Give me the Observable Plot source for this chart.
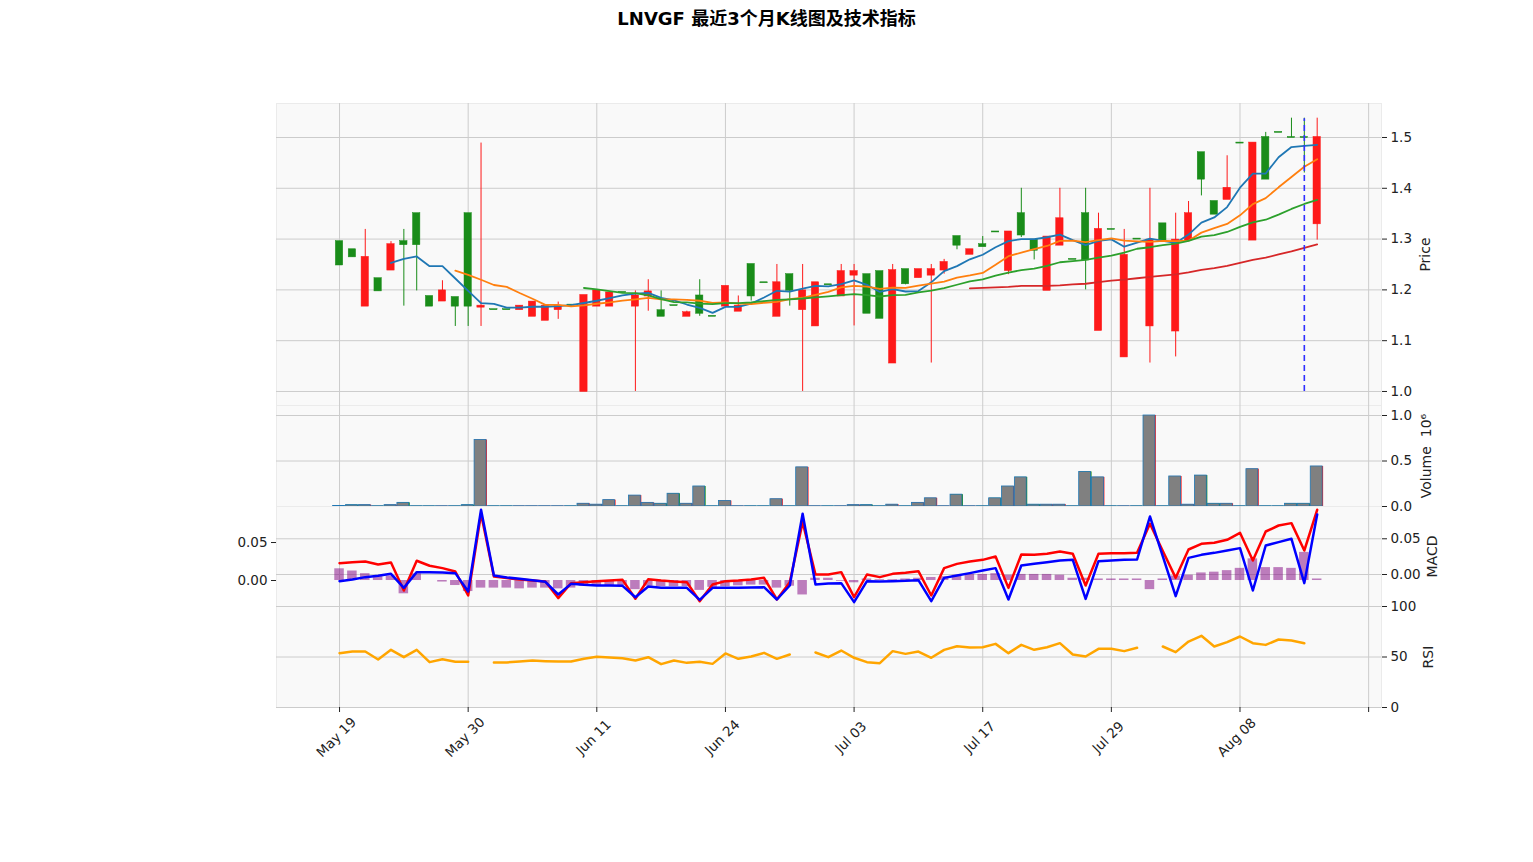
<!DOCTYPE html>
<html><head><meta charset="utf-8">
<script src="https://cdn.jsdelivr.net/npm/d3@7"></script>
<script src="https://cdn.jsdelivr.net/npm/@observablehq/plot@0.6"></script>
<style>
body{margin:0;background:#fff;}
#wrap{position:relative;width:1533px;height:862px;overflow:hidden;}
#title{position:absolute;top:4px;left:0;width:1533px;text-align:center;font-weight:bold;font-size:18px;font-family:"DejaVu Sans","Noto Sans CJK SC",sans-serif;color:#000;}
</style></head><body>
<div id="wrap"><div id="title">LNVGF 最近3个月K线图及技术指标</div></div>
<script>
// ---- data (index = trading day) ----
const tickIdx = [0, 10, 20, 30, 40, 50, 60, 70, 80];
const tickLabels = ["May 19", "May 30", "Jun 11", "Jun 24", "Jul 03", "Jul 17", "Jul 29", "Aug 08", ""];

const open = [1.295,1.279,1.168,1.222,1.239,1.295,1.350,1.187,1.178,1.185,
1.350,1.166,1.161,1.161,1.161,1.148,1.140,1.161,1.170,1.000,
1.168,1.168,1.195,1.168,1.188,1.159,1.169,1.148,1.188,1.148,
1.168,1.158,1.250,1.214,1.148,1.230,1.161,1.129,1.210,1.188,
1.229,1.230,1.236,1.056,1.240,1.224,1.229,1.239,1.305,1.270,
1.289,1.314,1.238,1.350,1.298,1.199,1.288,1.260,1.350,1.120,
1.319,1.068,1.300,1.129,1.330,1.119,1.298,1.470,1.374,1.378,
1.489,1.298,1.500,1.510,1.500,1.500,1.330];
const high = [1.295,1.279,1.319,1.222,1.295,1.319,1.350,1.187,1.218,1.185,
1.350,1.489,1.161,1.161,1.168,1.176,1.168,1.176,1.170,1.189,
1.198,1.194,1.195,1.198,1.220,1.198,1.169,1.158,1.220,1.148,
1.207,1.188,1.250,1.214,1.250,1.230,1.250,1.214,1.210,1.250,
1.250,1.230,1.236,1.250,1.240,1.240,1.250,1.260,1.305,1.279,
1.305,1.314,1.314,1.400,1.298,1.304,1.400,1.260,1.400,1.351,
1.319,1.319,1.300,1.400,1.330,1.351,1.374,1.470,1.374,1.464,
1.489,1.489,1.510,1.510,1.538,1.538,1.538];
const low = [1.249,1.265,1.168,1.198,1.239,1.168,1.198,1.168,1.178,1.128,
1.128,1.128,1.161,1.161,1.161,1.148,1.140,1.142,1.170,1.000,
1.168,1.168,1.195,1.000,1.158,1.148,1.169,1.148,1.148,1.148,
1.168,1.158,1.178,1.214,1.148,1.168,1.000,1.129,1.210,1.188,
1.129,1.154,1.144,1.056,1.210,1.224,1.056,1.231,1.279,1.270,
1.285,1.314,1.230,1.303,1.259,1.199,1.288,1.260,1.200,1.120,
1.319,1.068,1.300,1.056,1.298,1.068,1.298,1.385,1.349,1.378,
1.489,1.298,1.418,1.510,1.500,1.430,1.298];
const close = [1.249,1.265,1.264,1.198,1.289,1.289,1.289,1.168,1.198,1.168,
1.168,1.168,1.161,1.161,1.168,1.176,1.168,1.168,1.170,1.189,
1.198,1.194,1.195,1.188,1.196,1.148,1.169,1.155,1.154,1.148,
1.207,1.168,1.188,1.214,1.214,1.199,1.198,1.214,1.210,1.236,
1.236,1.154,1.144,1.238,1.212,1.240,1.240,1.254,1.288,1.279,
1.285,1.314,1.314,1.308,1.278,1.304,1.340,1.260,1.259,1.319,
1.319,1.268,1.300,1.298,1.298,1.298,1.350,1.418,1.349,1.400,
1.489,1.489,1.418,1.510,1.500,1.500,1.500];
// volume in millions
const volume = [0.005,0.015,0.015,0.003,0.015,0.04,0.003,0.003,0.003,0.003,
0.015,0.73,0.003,0.003,0.003,0.003,0.003,0.003,0.003,0.03,
0.02,0.07,0.003,0.12,0.04,0.03,0.14,0.03,0.22,0.003,
0.06,0.003,0.003,0.003,0.08,0.003,0.43,0.003,0.003,0.003,
0.015,0.015,0.003,0.02,0.003,0.04,0.09,0.003,0.13,0.003,
0.003,0.09,0.22,0.32,0.02,0.02,0.02,0.003,0.38,0.32,
0.003,0.003,0.003,1.0,0.003,0.33,0.02,0.34,0.03,0.03,
0.003,0.41,0.003,0.003,0.03,0.03,0.44];
const macdLine = [0.0159,0.0173,0.0182,0.014,0.0168,-0.0224,0.0192,0.0122,0.0089,0.0042,
-0.0294,0.085,-0.0028,-0.005,-0.007,-0.0084,-0.0098,-0.033,-0.0121,-0.0107,
-0.0093,-0.0084,-0.0075,-0.034,-0.0065,-0.0084,-0.0098,-0.0107,-0.0374,-0.014,
-0.0093,-0.0084,-0.007,-0.0047,-0.035,-0.0107,0.0733,0.0,0.0,0.0033,
-0.0317,0.0,-0.0037,0.0009,0.0023,0.0047,-0.0294,0.0089,0.0149,0.0182,
0.0205,0.0252,-0.0187,0.028,0.0275,0.029,0.0322,0.029,-0.0154,0.029,
0.0299,0.0299,0.0303,0.071,0.033,-0.0047,0.035,0.043,0.0444,0.0486,
0.0584,0.0196,0.0602,0.0686,0.0719,0.0336,0.0906];
const signalLine = [-0.0093,-0.007,-0.0037,-0.0019,0.001,-0.0187,0.0033,0.0033,0.0028,0.0019,
-0.0238,0.0906,-0.0014,-0.0042,-0.0061,-0.0079,-0.0103,-0.028,-0.0131,-0.0145,
-0.0154,-0.0154,-0.0159,-0.0318,-0.0168,-0.0187,-0.0187,-0.0187,-0.0355,-0.0187,
-0.0187,-0.0187,-0.0182,-0.0177,-0.035,-0.0154,0.085,-0.014,-0.0125,-0.0121,
-0.0387,-0.0093,-0.0098,-0.0093,-0.0089,-0.0079,-0.0374,-0.0047,-0.0014,0.0019,
0.0056,0.0089,-0.035,0.0126,0.0149,0.0173,0.0196,0.0205,-0.0341,0.0187,
0.0196,0.0205,0.021,0.0812,0.0255,-0.0303,0.0233,0.0275,0.0303,0.0336,
0.0369,-0.0224,0.0406,0.0453,0.05,-0.0121,0.084];
// histogram on the left-hand (secondary) MACD axis
const macdHist = [0.0154,0.0125,0.009,0.0066,0.006,-0.0175,0.0088,0.000,-0.002,-0.0066,
-0.0145,-0.010,-0.010,-0.010,-0.011,-0.010,-0.010,-0.011,-0.010,-0.0075,
-0.0075,-0.0066,-0.0066,-0.012,-0.0075,-0.008,-0.008,-0.008,-0.013,-0.009,
-0.008,-0.007,-0.006,-0.006,-0.010,-0.0075,-0.019,0.003,0.003,-0.001,
-0.003,0.002,0.001,0.001,0.002,0.003,0.004,0.005,0.007,0.008,
0.008,0.009,0.007,0.008,0.008,0.008,0.007,0.003,0.003,0.002,
0.002,0.002,0.002,-0.012,0.002,0.006,0.007,0.010,0.011,0.013,
0.016,0.0285,0.017,0.017,0.016,0.037,0.002];
const rsi = [53.8,55.4,55.4,47.5,57.1,49.8,57.1,44.9,47.8,45.2,
45.2,null,44.6,44.6,45.5,46.5,45.9,45.5,45.5,48.2,
50.2,49.5,48.8,46.5,49.8,42.9,46.5,44.2,45.2,43.2,
53.5,48.2,50.5,54.1,48.2,52.5,null,54.5,49.8,56.4,
49.2,44.9,43.9,55.8,53.1,55.4,49.2,57.1,60.7,59.4,
59.7,63.0,53.8,62.0,57.1,59.7,63.7,52.5,50.5,58.1,
58.1,55.8,59.1,null,60.4,54.8,65.3,71.0,60.4,64.7,
70.3,63.7,62.0,67.3,66.3,63.7,null];
const maWindows = [5, 10, 20, 50];
const maColors = ["#1f77b4", "#ff7f0e", "#2ca02c", "#d62728"];
const markerDay = {i: 75, y1: 1.0, y2: 1.537};

// ---- layout ----
const W = 1533, ML = 276, MR = 1533 - 1381;
const xDomain = [-4.9, 81];
const upColor = "#fe1919", downColor = "#198c19";
const rows = open.map((o, i) => ({i, open: o, high: high[i], low: low[i], close: close[i],
  volume: volume[i], macd: macdLine[i], signal: signalLine[i], hist: macdHist[i], rsi: rsi[i]}));
const col = d => d.close > d.open ? upColor : downColor;
const xTicks = tickIdx.map((i, k) => ({i, label: tickLabels[k]}));
const gridColor = "#cccccc";
const wrap = document.getElementById("wrap");

function addPanel(top, h, mt, mb, yDomain, marks) {
  const svg = Plot.plot({
    width: W, height: h + mt + mb,
    marginLeft: ML, marginRight: MR, marginTop: mt, marginBottom: mb,
    x: {domain: xDomain, axis: null},
    y: {domain: yDomain, axis: null},
    style: {fontFamily: "'DejaVu Sans', sans-serif", fontSize: "13.5px", color: "#222", background: "none", overflow: "visible"},
    marks: [
      Plot.frame({fill: "#f9f9f9", stroke: "#ebebeb"}),
      Plot.gridX(tickIdx, {stroke: gridColor, strokeOpacity: 1}),
      ...marks
    ]
  });
  svg.style.position = "absolute";
  svg.style.left = "0px";
  svg.style.top = (top - mt) + "px";
  wrap.appendChild(svg);
}
const yLabel = (t, dx, dy = 0) => Plot.text([t], {text: d => d, frameAnchor: "right", textAnchor: "middle", dx, dy, rotate: -90, fontSize: 14, fill: "#222"});

// Price panel
const priceTicks = [1.0, 1.1, 1.2, 1.3, 1.4, 1.5];
addPanel(103, 302, 10, 10, [0.9724, 1.5669], [
  Plot.gridY(priceTicks, {stroke: gridColor, strokeOpacity: 1}),
  Plot.axisY(priceTicks, {anchor: "right", tickSize: 5, tickPadding: 4, tickFormat: d3.format(".1f"), label: null}),
  Plot.ruleX(rows, {x: "i", y1: "low", y2: "high", stroke: col, strokeWidth: 1}),
  Plot.rect(rows, {x1: d => d.i - 0.285, x2: d => d.i + 0.285, y1: "open", y2: "close", fill: col, stroke: col, strokeWidth: 0.5, insetTop: -0.5, insetBottom: -0.5}),
  ...maWindows.map((k, j) => Plot.lineY(rows, Plot.windowY({k, anchor: "end", strict: true}, {x: "i", y: "close", stroke: maColors[j], strokeWidth: 1.8}))),
  Plot.ruleX([markerDay], {x: "i", y1: "y1", y2: "y2", stroke: "#3030ff", strokeWidth: 1.6, strokeDasharray: "6,4"}),
  yLabel("Price", 44)
]);

// Volume panel
const volTicks = [0, 0.5, 1.0];
addPanel(405, 101, 0, 0, [0, 1.11], [
  Plot.gridY(volTicks, {stroke: gridColor, strokeOpacity: 1}),
  Plot.axisY(volTicks, {anchor: "right", tickSize: 5, tickPadding: 4, tickFormat: d3.format(".1f"), label: null}),
  Plot.rectY(rows, {x1: d => d.i - 0.45, x2: d => d.i + 0.5, y: "volume", fill: col}),
  Plot.rectY(rows, {x1: d => d.i - 0.5, x2: d => d.i + 0.42, y: "volume", fill: "#808080", stroke: "#1f77b4", strokeWidth: 0.8}),
  yLabel("Volume  10\u2076", 45)
]);

// MACD panel (right axis primary, left axis secondary for histogram)
const macdRight = [-0.0448, 0.0952];
const macdLeft = [-0.0342, 0.0974];
const leftToRight = d3.scaleLinear(macdLeft, macdRight);
const macdTicks = [0, 0.05];
addPanel(506, 100, 0, 0, macdRight, [
  Plot.gridY(macdTicks, {stroke: gridColor, strokeOpacity: 1}),
  Plot.axisY(macdTicks, {anchor: "right", tickSize: 5, tickPadding: 4, tickFormat: d3.format(".2f"), label: null}),
  Plot.axisY(macdTicks.map(leftToRight), {anchor: "left", tickSize: 5, tickPadding: 4, tickFormat: d => d3.format(".2f")(leftToRight.invert(d)), label: null}),
  Plot.rect(rows, {x1: d => d.i - 0.37, x2: d => d.i + 0.37, y1: () => leftToRight(0), y2: d => leftToRight(d.hist), fill: "#800080", fillOpacity: 0.5}),
  Plot.lineY(rows, {x: "i", y: "macd", stroke: "#ff0000", strokeWidth: 2.5}),
  Plot.lineY(rows, {x: "i", y: "signal", stroke: "#0000ff", strokeWidth: 2.5}),
  yLabel("MACD", 51)
]);

// RSI panel
const rsiTicks = [0, 50, 100];
addPanel(606, 101, 0, 80, [0, 100], [
  Plot.gridY(rsiTicks, {stroke: gridColor, strokeOpacity: 1}),
  Plot.axisY(rsiTicks, {anchor: "right", tickSize: 5, tickPadding: 4, tickFormat: d3.format("d"), label: null}),
  Plot.axisX(tickIdx, {anchor: "bottom", tickSize: 5, tickFormat: () => "", label: null}),
  Plot.text(xTicks, {x: "i", text: "label", frameAnchor: "bottom", dy: 33, rotate: -45, fill: "#222"}),
  Plot.lineY(rows, {x: "i", y: "rsi", stroke: "orange", strokeWidth: 2.5}),
  yLabel("RSI", 47)
]);
</script>
</body></html>
